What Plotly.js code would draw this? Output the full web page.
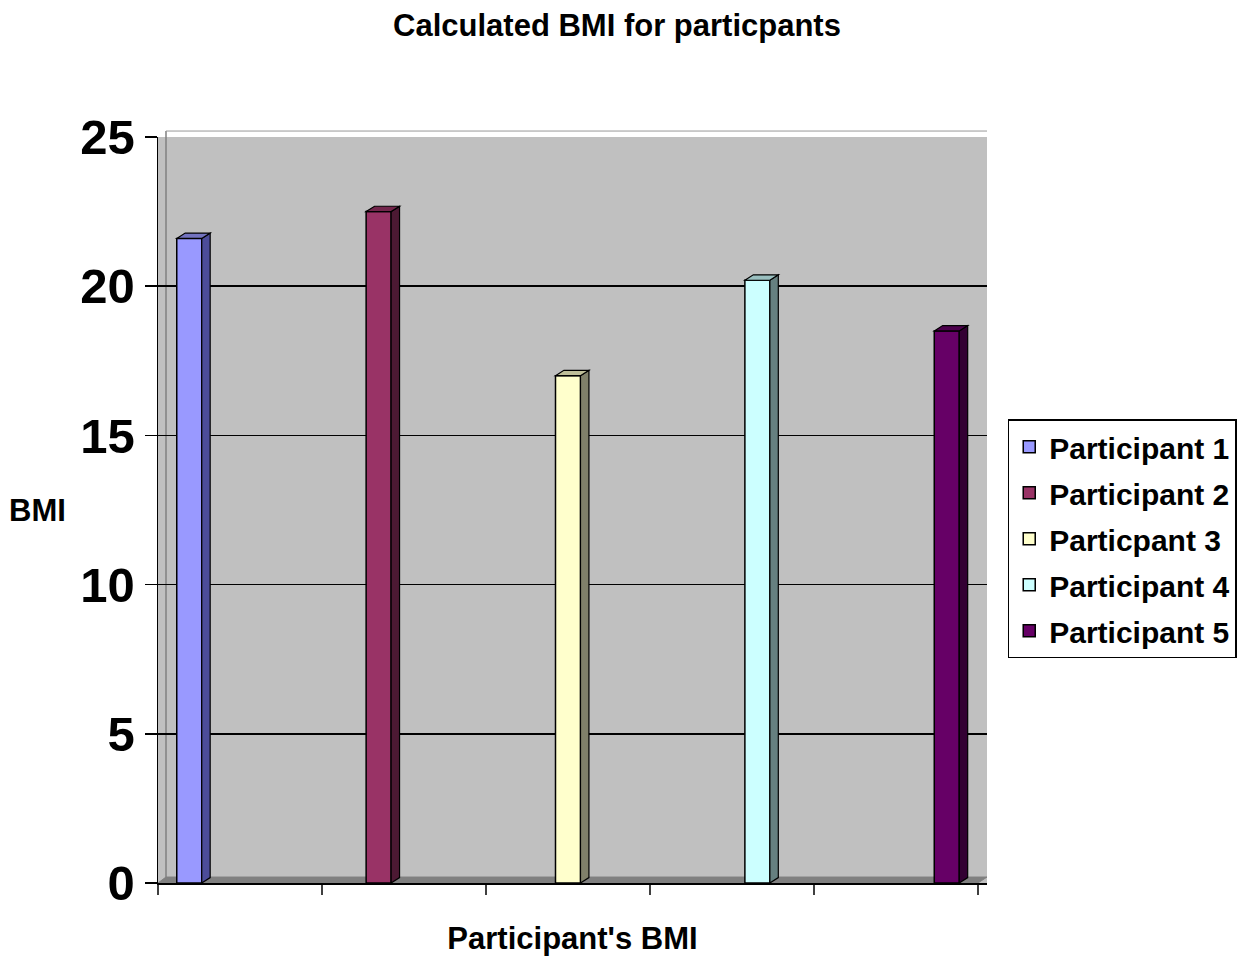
<!DOCTYPE html>
<html>
<head>
<meta charset="utf-8">
<script src="https://cdn.plot.ly/plotly-3.0.1.min.js"></script>
<style>html,body{margin:0;padding:0;background:#fff;}#chart{width:1249px;height:960px;}</style>
</head>
<body>
<div id="chart"></div>
<script>
// ---- data ----
const categories = [''];
const seriesNames = ['Participant 1', 'Participant 2', 'Particpant 3', 'Participant 4', 'Participant 5'];
const bmiValues = [21.6, 22.5, 17.0, 20.2, 18.5];
const yTickValues = [0, 5, 10, 15, 20, 25];
const chartTitle = 'Calculated BMI for particpants';
const xTitle = "Participant's BMI";
const yTitle = 'BMI';

// ---- styles ----
const frontColors = ['#9999FF', '#993366', '#FFFFCC', '#CCFFFF', '#660066'];
const sideColors  = ['#4C4C99', '#4C1933', '#80806A', '#668080', '#330033'];
const topColors   = ['#7373BF', '#73264C', '#BFBF99', '#99BFBF', '#4C004C'];
const FONT = 'Liberation Sans, Arial, Helvetica, sans-serif';

const nSeries = seriesNames.length;
const bargroupgap = 0.868;
const slot = 1 / nSeries;
const halfW = slot * (1 - bargroupgap) / 2;
const depthX = 0.0089;   // 3D depth in category units
const depthY = 0.18;     // 3D depth in value units

const traces = seriesNames.map((name, i) => ({
  type: 'bar',
  x: categories,
  y: [bmiValues[i]],
  name: name,
  legendgroup: 'g' + i,
  marker: { color: frontColors[i], line: { color: '#000', width: 1.5 } },
  hovertemplate: name + ': %{y}<extra></extra>'
}));

const shapes = [];
// floor
shapes.push({ type: 'path', xref: 'paper', yref: 'paper', layer: 'below',
  path: 'M 0 0 L 0.989 0 L 1 0.008 L 0.00965 0.008 Z',
  fillcolor: '#808080', line: { color: '#808080', width: 1 } });
// left wall edge
shapes.push({ type: 'line', xref: 'paper', yref: 'paper', layer: 'below',
  x0: 0.00965, x1: 0.00965, y0: 0.008, y1: 1.008, line: { color: '#808080', width: 1.5 } });
// top wall edge
shapes.push({ type: 'line', xref: 'paper', yref: 'paper', layer: 'below',
  x0: 0.00965, x1: 1, y0: 1.008, y1: 1.008, line: { color: '#999', width: 1 } });
// 3D faces of bars derived from values
bmiValues.forEach((v, i) => {
  const cx = (i - (nSeries - 1) / 2) * slot;
  const r = cx + halfW, l = cx - halfW;
  shapes.push({ type: 'path', xref: 'x', yref: 'y', layer: 'above',
    path: `M ${r} 0 L ${r + depthX} ${depthY} L ${r + depthX} ${v + depthY} L ${r} ${v} Z`,
    fillcolor: sideColors[i], line: { color: '#000', width: 1.2 } });
  shapes.push({ type: 'path', xref: 'x', yref: 'y', layer: 'above',
    path: `M ${l} ${v} L ${l + depthX} ${v + depthY} L ${r + depthX} ${v + depthY} L ${r} ${v} Z`,
    fillcolor: topColors[i], line: { color: '#000', width: 1.2 } });
});
// x-axis tick marks (5 equal divisions)
for (let k = 0; k <= 5; k++) {
  const xp = k / 5 * (820 / 829);
  shapes.push({ type: 'line', xref: 'paper', yref: 'paper', layer: 'above',
    x0: xp, x1: xp, y0: 0, y1: -0.016, line: { color: '#000', width: 1.5 } });
}

const layout = {
  width: 1249, height: 960,
  margin: { l: 158, r: 262, t: 137, b: 77 },
  paper_bgcolor: '#FFFFFF',
  plot_bgcolor: '#C0C0C0',
  font: { family: FONT, color: '#000' },
  title: { text: chartTitle, font: { family: FONT, size: 31, weight: 'bold', color: '#000' },
    x: 617 / 1249, xref: 'container', xanchor: 'center', y: 0.974, yref: 'container', yanchor: 'middle' },
  barmode: 'group',
  bargap: 0,
  bargroupgap: bargroupgap,
  showlegend: true,
  legend: { x: 1.025, y: 0.6215, xanchor: 'left', yanchor: 'top',
    bgcolor: '#FFFFFF', bordercolor: '#000', borderwidth: 1.5,
    font: { family: FONT, size: 30, weight: 'bold', color: '#000' },
    tracegroupgap: 4, itemclick: false },
  xaxis: { type: 'category', range: [-0.433, 0.4425], showticklabels: false, ticks: '',
    showline: true, linecolor: '#000', linewidth: 1.5, showgrid: false, zeroline: false,
    fixedrange: true,
    title: { text: xTitle, font: { family: FONT, size: 31, weight: 'bold', color: '#000' }, standoff: 44 } },
  yaxis: { range: [0, 25], tickmode: 'array', tickvals: yTickValues,
    ticks: 'outside', ticklen: 12, tickwidth: 1.5, tickcolor: '#000',
    showline: true, linecolor: '#000', linewidth: 1.5,
    showgrid: true, gridcolor: '#000', gridwidth: 1.5, zeroline: false,
    tickfont: { family: FONT, size: 49, weight: 'bold', color: '#000' }, fixedrange: true },
  annotations: [{ text: yTitle, xref: 'paper', yref: 'paper', x: -0.1448, y: 0.4987,
    xanchor: 'center', yanchor: 'middle', showarrow: false,
    font: { family: FONT, size: 31, weight: 'bold', color: '#000' } }],
  shapes: shapes
};

Plotly.newPlot('chart', traces, layout, { displayModeBar: false, staticPlot: true });
</script>
</body>
</html>
